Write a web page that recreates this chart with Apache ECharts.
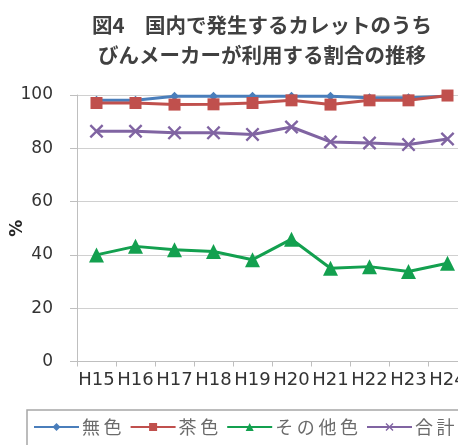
<!DOCTYPE html>
<html><head><meta charset="utf-8">
<script src="https://cdn.jsdelivr.net/npm/echarts@6/dist/echarts.min.js"></script>
<style>html,body{margin:0;padding:0;background:#fff;}#c{width:458px;height:445px;}</style>
</head><body><div id="c"></div>
<script>
var categories = ['H15','H16','H17','H18','H19','H20','H21','H22','H23','H24'];
var colorless = [98, 98, 99.5, 99.5, 99.5, 99.5, 99.5, 99, 99, 99.5];
var brown = [97, 97, 96.4, 96.5, 97, 98, 96.4, 98, 98, 99.8];
var other = [40, 43.2, 41.9, 41.3, 38.2, 45.9, 35, 35.6, 33.8, 36.9];
var total = [86.4, 86.4, 85.8, 85.8, 85.2, 88, 82.4, 82, 81.4, 83.5];
var seriesNames = ['無色','茶色','その他色','合計'];
var yTicks = [0, 20, 40, 60, 80, 100];

var FONT = "'Noto Sans CJK JP', 'Noto Sans', sans-serif";
var LFONT = "'DejaVu Sans', sans-serif";
var xPath = 'path://M0,1.2L1.2,0L5,3.8L8.8,0L10,1.2L6.2,5L10,8.8L8.8,10L5,6.2L1.2,10L0,8.8L3.8,5Z';
var chart = echarts.init(document.getElementById('c'), null, {renderer:'canvas'});
function mk(name, data, color, symbol, size){
  return {name:name, type:'line', data:data, symbol:symbol, symbolSize:size,
    lineStyle:{color:color, width:3}, itemStyle:{color:color}, animation:false};
}
chart.setOption({
  animation:false,
  textStyle:{fontFamily:FONT},
  title:{text:'図4　国内で発生するカレットのうち\nびんメーカーが利用する割合の推移', left:257, top:5, textAlign:'center',
    textStyle:{fontSize:20.5, fontWeight:'bold', color:'#404040', lineHeight:30, fontFamily:FONT}},
  grid:{left:77, top:95, height:266.5, width:390, outerBoundsMode:'none', containLabel:false},
  legend:{left:27, top:410, width:700, data:seriesNames, itemWidth:45, itemHeight:10, itemGap:8,
    borderColor:'#a6a6a6', borderWidth:1.5, padding:[8,6,10,6], borderRadius:0,
    formatter:function(n){ return n.split('').join('\u2009'); },
    textStyle:{fontSize:18, color:'#6b6b6b', fontFamily:FONT, padding:[0,0,0,-2]}},
  xAxis:{type:'category', data:categories, boundaryGap:true,
    axisLine:{lineStyle:{color:'#bfbfbf', width:1}},
    axisTick:{show:true, length:5, lineStyle:{color:'#bfbfbf'}},
    axisLabel:{interval:0, fontSize:18, color:'#333333', margin:10, fontFamily:LFONT}},
  yAxis:{type:'value', min:0, max:100, interval:20, name:'%', nameLocation:'middle', nameGap:51, nameRotate:90,
    nameMoveOverlap:false,
    nameTextStyle:{fontSize:17, fontWeight:'bold', color:'#262626', fontFamily:LFONT},
    axisLine:{show:true, lineStyle:{color:'#bfbfbf'}},
    axisTick:{show:true, length:7, lineStyle:{color:'#bfbfbf'}},
    splitLine:{lineStyle:{color:'#d0d0d0'}},
    axisLabel:{fontSize:17, color:'#333333', margin:24, fontFamily:LFONT}},
  series:[
    mk(seriesNames[0], colorless, '#4A7EBB', 'diamond', 9),
    mk(seriesNames[1], brown, '#C0504D', 'rect', 12),
    mk(seriesNames[2], other, '#13A04F', 'triangle', 15),
    mk(seriesNames[3], total, '#8064A2', xPath, 14)
  ]
});
</script></body></html>
